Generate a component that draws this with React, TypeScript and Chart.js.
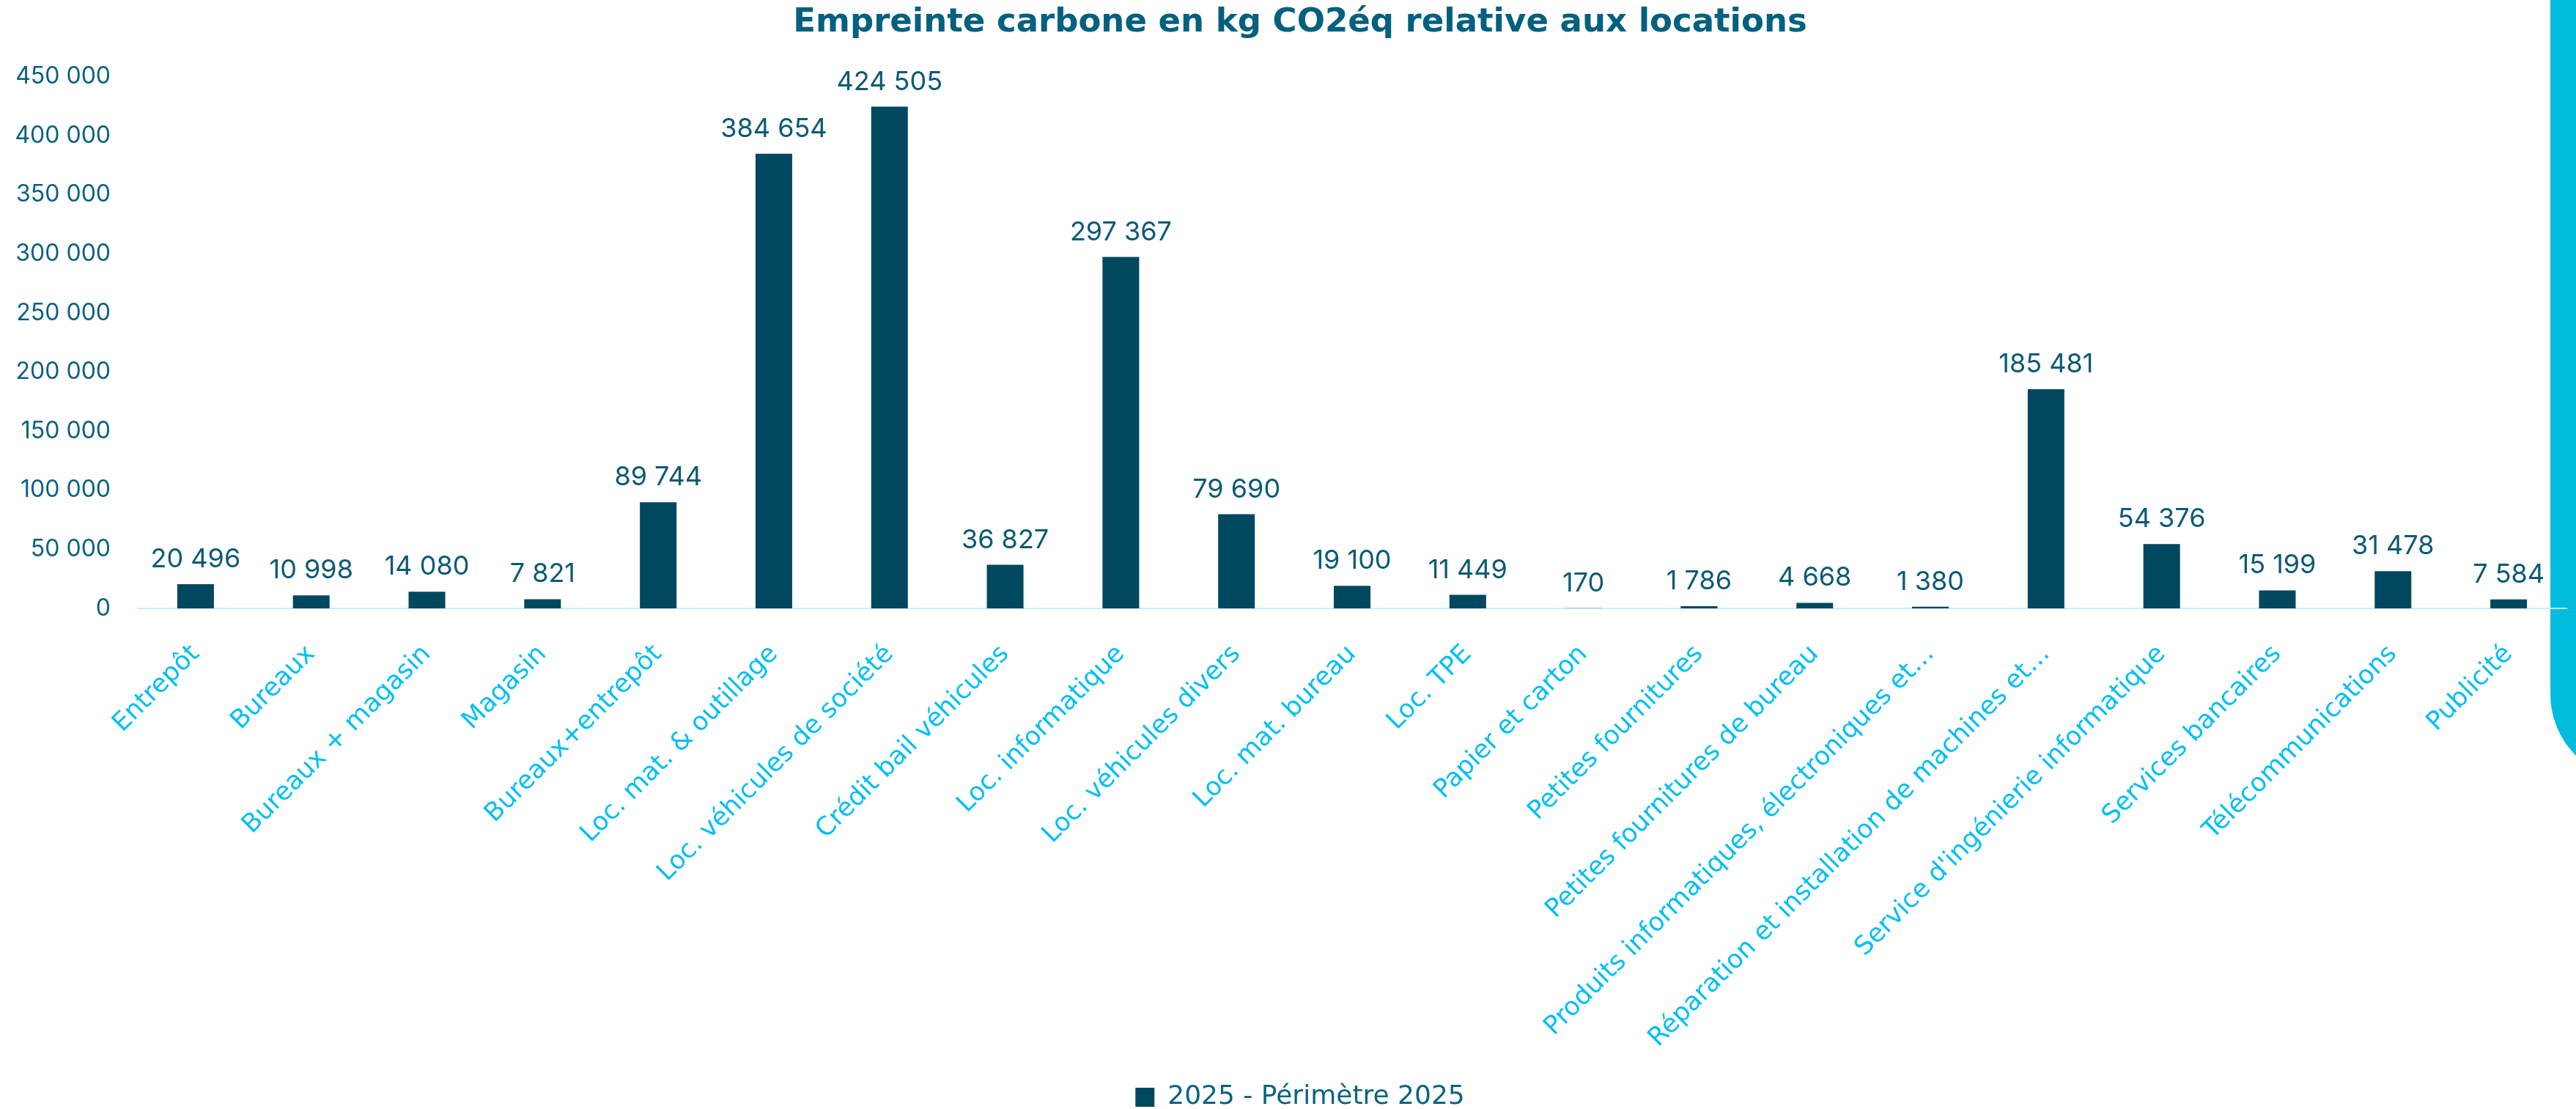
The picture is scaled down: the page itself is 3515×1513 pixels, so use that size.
import React, { useEffect, useRef } from "react";
import { Chart, registerables } from "chart.js";

Chart.register(...registerables);

const TITLE = "Empreinte carbone en kg CO2éq relative aux locations";
const SERIES_LABEL = "2025 - Périmètre 2025";

const categories: string[] = [
  "Entrepôt",
  "Bureaux",
  "Bureaux + magasin",
  "Magasin",
  "Bureaux+entrepôt",
  "Loc. mat. & outillage",
  "Loc. véhicules de société",
  "Crédit bail véhicules",
  "Loc. informatique",
  "Loc. véhicules divers",
  "Loc. mat. bureau",
  "Loc. TPE",
  "Papier et carton",
  "Petites fournitures",
  "Petites fournitures de bureau",
  "Produits informatiques, électroniques et…",
  "Réparation et installation de machines et…",
  "Service d'ingénierie informatique",
  "Services bancaires",
  "Télécommunications",
  "Publicité",
];

const values2025: number[] = [
  20496, 10998, 14080, 7821, 89744, 384654, 424505, 36827, 297367, 79690,
  19100, 11449, 170, 1786, 4668, 1380, 185481, 54376, 15199, 31478, 7584,
];

const yTicks: number[] = [0, 50000, 100000, 150000, 200000, 250000, 300000, 350000, 400000, 450000];

const fmt = (v: number) =>
  Math.round(v).toString().replace(/\B(?=(\d{3})+(?!\d))/g, " ");

const valueLabelPlugin = {
  id: "valueLabels",
  afterDatasetsDraw(chart: any) {
    const ctx = chart.ctx;
    const meta = chart.getDatasetMeta(0);
    ctx.save();
    ctx.font = "36px Inter";
    ctx.fillStyle = "#0b5a75";
    ctx.textAlign = "center";
    ctx.textBaseline = "alphabetic";
    meta.data.forEach((bar: any, i: number) => {
      const v = chart.data.datasets[0].data[i];
      ctx.fillText(fmt(v), bar.x, bar.y - 23);
    });
    ctx.restore();
  },
};

export default function App() {
  const ref = useRef<HTMLCanvasElement | null>(null);

  useEffect(() => {
    if (!ref.current) return;
    const chart = new Chart(ref.current, {
      type: "bar",
      data: {
        labels: categories,
        datasets: [
          {
            label: SERIES_LABEL,
            data: values2025,
            backgroundColor: "#00485f",
            borderWidth: 0,
            barPercentage: 0.317,
            categoryPercentage: 1,
          },
        ],
      },
      options: {
        responsive: false,
        animation: false,
        devicePixelRatio: 1,
        layout: { padding: { left: 46, right: 44, top: 0, bottom: 0 } },
        plugins: {
          title: {
            display: true,
            text: TITLE,
            color: "#03607f",
            font: { family: "DejaVu Sans", size: 45, weight: "bold" },
            padding: { top: 4, bottom: 46.4 },
          },
          legend: {
            display: true,
            position: "bottom",
            labels: {
              boxWidth: 26,
              boxHeight: 26,
              padding: 10,
              color: "#0b6480",
              font: { family: "DejaVu Sans", size: 36 },
            },
          },
          tooltip: { enabled: false },
        },
        scales: {
          x: {
            grid: { display: false, drawTicks: false },
            border: { display: true, color: "#c7eff9", width: 2 },
            ticks: {
              autoSkip: false,
              minRotation: 45,
              maxRotation: 45,
              padding: 42,
              color: "#00bff3",
              font: { family: "DejaVu Sans", size: 35 },
            },
            afterFit(scale: any) {
              scale.height = 639;
            },
          },
          y: {
            min: 0,
            max: 450000,
            grid: { display: false, drawTicks: false },
            border: { display: false },
            afterBuildTicks(scale: any) {
              scale.ticks = yTicks.map((v) => ({ value: v }));
            },
            ticks: {
              padding: 37,
              color: "#0b6080",
              font: { family: "Inter", size: 32 },
              callback: (v: any) => fmt(Number(v)),
            },
            afterFit(scale: any) {
              scale.width = 142;
              scale._computeLabelArea = () => undefined;
            },
          },
        },
      },
      plugins: [valueLabelPlugin],
    });
    return () => chart.destroy();
  }, []);

  return (
    <div
      style={{
        position: "fixed",
        left: 0,
        top: 0,
        width: 3515,
        height: 1513,
        overflow: "hidden",
        background: "#ffffff",
      }}
    >
      <div
        style={{
          position: "absolute",
          left: 3480,
          top: 0,
          width: 200,
          height: 1065,
          background: "#00bcdd",
          borderBottomLeftRadius: 118,
        }}
      />
      <canvas
        ref={ref}
        width={3546}
        height={1525}
        style={{ position: "absolute", left: 0, top: 0, width: 3546, height: 1525 }}
      />
    </div>
  );
}
